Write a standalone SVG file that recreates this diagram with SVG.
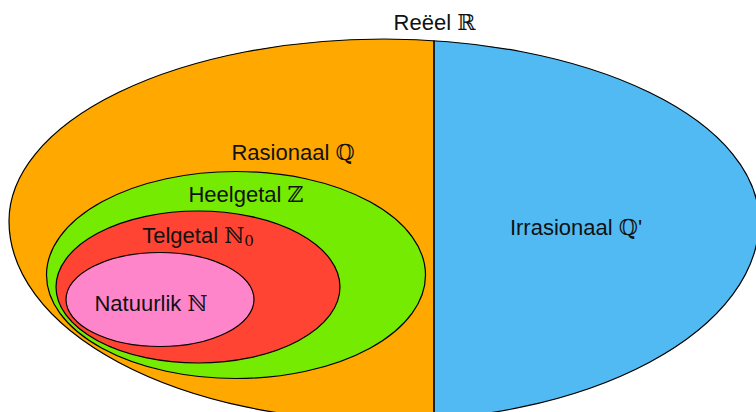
<svg xmlns="http://www.w3.org/2000/svg" width="756" height="412" viewBox="0 0 756 412">
  <defs>
    <clipPath id="leftHalf"><rect x="0" y="0" width="434" height="430"/></clipPath>
    <path id="realShape" d="M 9,221 A 375 182 0 0 1 384,39 A 375 182 0 0 1 759,221 A 375 200 0 0 1 384,421 A 375 200 0 0 1 9,221 Z"/>
  </defs>
  <style>
    .lbl { font-family: "Liberation Sans", "DejaVu Sans", sans-serif; font-size: 22px; fill: #111; text-anchor: middle; }
    .bb { font-family: "DejaVu Serif", "DejaVu Sans", serif; font-weight: normal; }
    .edge { stroke: #000; stroke-width: 1.2; }
  </style>
  <rect width="756" height="412" fill="#fff"/>
  <g id="reals">
    <use href="#realShape" fill="#52BAF3"/>
    <use href="#realShape" fill="#FFA800" clip-path="url(#leftHalf)"/>
    <use href="#realShape" fill="none" class="edge"/>
    <line x1="434" y1="40.5" x2="434" y2="425" stroke="#000" stroke-width="1.6"/>
    <text class="lbl" x="434.5" y="29.5">Reëel <tspan class="bb">ℝ</tspan></text>
  </g>
  <g id="irrational">
    <text class="lbl" x="576" y="235">Irrasionaal <tspan class="bb">ℚ</tspan>'</text>
  </g>
  <g id="rational">
    <text class="lbl" x="293" y="159.5">Rasionaal <tspan class="bb">ℚ</tspan></text>
  </g>
  <g id="integers">
    <ellipse cx="236" cy="275" rx="189.5" ry="103.5" fill="#74EB00" class="edge"/>
    <text class="lbl" x="246" y="201.5">Heelgetal <tspan class="bb">ℤ</tspan></text>
  </g>
  <g id="whole">
    <ellipse cx="198" cy="287" rx="142" ry="76" fill="#FF4433" class="edge"/>
    <text class="lbl" x="198" y="243">Telgetal <tspan class="bb">ℕ</tspan><tspan class="bb" font-size="15" dy="3">0</tspan></text>
  </g>
  <g id="natural">
    <ellipse cx="160" cy="299.5" rx="94" ry="47" fill="#FF85CB" class="edge"/>
    <text class="lbl" x="151" y="310.5">Natuurlik <tspan class="bb">ℕ</tspan></text>
  </g>
  <g id="connectors"/>
</svg>
